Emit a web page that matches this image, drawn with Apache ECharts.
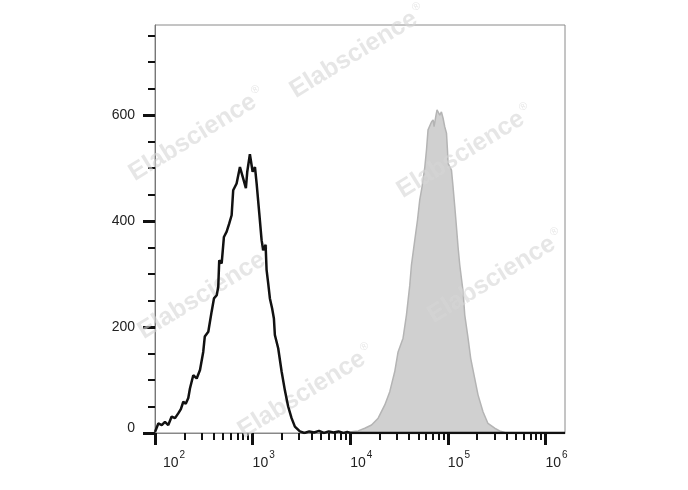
<!DOCTYPE html>
<html><head><meta charset="utf-8">
<script src="https://cdn.jsdelivr.net/npm/echarts@6/dist/echarts.min.js"></script>
<style>html,body{margin:0;padding:0;background:#fff}#c{width:688px;height:490px}</style>
</head><body><div id="c"></div>
<script>
// log10 of fluorescence intensity (x) and event counts (y)
const blackLog = [2.000,2.034,2.069,2.102,2.136, 2.171,2.205,2.238,2.265,2.290, 2.315,2.341,2.358,2.392,2.427, 2.461,2.494,2.510,2.546,2.580, 2.604,2.632,2.648,2.658,2.683, 2.706,2.734,2.760,2.785,2.801, 2.836,2.870,2.898,2.931,2.945, 2.972,3.000,3.024,3.041,3.068, 3.092,3.108,3.133,3.143,3.160, 3.177,3.200,3.218,3.228,3.262, 3.297,3.331,3.364,3.399,3.433, 3.484,3.530,3.580,3.630,3.680, 3.730,3.780,3.830,3.880,3.930, 3.970,4.000,6.200];
const blackCount = [2,18,15,21,15, 31,28,37,45,59, 55,66,84,109,103, 119,153,182,191,229, 254,260,276,326,320, 370,380,395,411,458, 471,502,484,462,493, 526,493,502,471,415, 364,345,355,308,282, 254,235,216,185,160, 116,80,50,28,12, 3,0,3,1,4, 0,3,1,3,0, 2,0,0];
const grayLog = [3.95,4.013,4.081,4.149,4.218, 4.286,4.354,4.405,4.456,4.490, 4.541,4.576,4.610,4.627,4.661, 4.689,4.712,4.736,4.764,4.781, 4.797,4.815,4.832,4.849,4.859, 4.876,4.889,4.904,4.917,4.934, 4.951,4.968,4.986,4.996,5.002, 5.037,5.053,5.071,5.088,5.104, 5.122,5.156,5.173,5.207,5.234, 5.275,5.309,5.360,5.411,5.480, 5.531,5.582,5.65];
const grayCount = [0,2.5,4,9,15, 28,53,78,116,153, 179,223,279,317,364, 402,440,465,502,534, 572,575,587,591,578, 597,610,613,600,606, 594,578,566,534,509, 496,465,427,389,352, 317,267,223,179,141, 103,72,40,18,9, 4,1,0];
const xDecades = [2,3,4,5,6];
const yMajorTicks = [0,200,400,600];
const yMinorTicks = [50,100,150,250,300,350,450,500,550,650,700,750];
const watermarkText = 'Elabscience';

const X_MIN = 2, X_MAX = 6.2, Y_MIN = 0, Y_MAX = 770;
const xMinorTicks = [];
xDecades.forEach(d => { for (let k = 2; k <= 9; k++) { const v = d + Math.log10(k); if (v < X_MAX) xMinorTicks.push(v); } });

const FONT = '"Liberation Sans", Arial, sans-serif';
const blackData = blackLog.map((x, i) => [x, blackCount[i]]);
const grayData = grayLog.map((x, i) => [x, grayCount[i]]);

const wmPos = [[358,52],[197,135],[465,152],[206,293],[306,392],[496,277]];
const graphic = wmPos.map(p => ({
  type: 'text', x: p[0], y: p[1], rotation: 0.55, z: 3, silent: true,
  style: {
    text: watermarkText + '{r|®}', fill: 'rgba(214,214,214,0.6)',
    font: 'bold 25px ' + FONT, align: 'center', verticalAlign: 'middle',
    rich: { r: { fontSize: 11, fill: 'rgba(214,214,214,0.6)', padding: [0,0,16,2] } }
  }
}));

const chart = echarts.init(document.getElementById('c'), null, {renderer: 'canvas'});
chart.setOption({
  animation: false,
  backgroundColor: '#fff',
  grid: { left: 155, right: 123, top: 25, bottom: 57, show: true, borderColor: '#8a8a8a', borderWidth: 1 },
  graphic: graphic,
  xAxis: [
    { type: 'value', min: X_MIN, max: X_MAX, position: 'bottom',
      axisLine: { show: true, lineStyle: { color: '#888', width: 1 } },
      axisTick: { show: true, customValues: xDecades, length: 12, lineStyle: { color: '#111', width: 3 } },
      axisLabel: { show: true, customValues: xDecades, margin: 17, align: 'left',
        formatter: v => (v === 2 ? '{f|10}{s|' + v + '}' : '{b|10}{s|' + v + '}'),
        rich: {
          b: { fontSize: 14, fontFamily: FONT, color: '#222', lineHeight: 20, verticalAlign: 'bottom' },
          f: { fontSize: 14, fontFamily: FONT, color: '#222', lineHeight: 20, verticalAlign: 'bottom', padding: [0,0,0,8] },
          s: { fontSize: 10, fontFamily: FONT, color: '#222', lineHeight: 10, verticalAlign: 'top', padding: [0,0,0,1] }
        } },
      splitLine: { show: false } },
    { type: 'value', min: X_MIN, max: X_MAX, position: 'bottom',
      axisLine: { show: false },
      axisTick: { show: true, customValues: xMinorTicks, length: 7, lineStyle: { color: '#111', width: 2 } },
      axisLabel: { show: false }, splitLine: { show: false } }
  ],
  yAxis: [
    { type: 'value', min: Y_MIN, max: Y_MAX, position: 'left',
      axisLine: { show: true, lineStyle: { color: '#777', width: 1 } },
      axisTick: { show: true, customValues: yMajorTicks, length: 12, lineStyle: { color: '#111', width: 3 } },
      axisLabel: { show: true, customValues: yMajorTicks, margin: 20,
        formatter: v => (v === 0 ? '{z|0}' : '{n|' + v + '}'),
        rich: {
          n: { fontSize: 14, fontFamily: FONT, color: '#222' },
          z: { fontSize: 14, fontFamily: FONT, color: '#222', padding: [0,0,10,0] }
        } },
      splitLine: { show: false } },
    { type: 'value', min: Y_MIN, max: Y_MAX, position: 'left',
      axisLine: { show: false },
      axisTick: { show: true, customValues: yMinorTicks, length: 7, lineStyle: { color: '#111', width: 2 } },
      axisLabel: { show: false }, splitLine: { show: false } }
  ],
  series: [
    { type: 'line', name: 'stained', data: grayData, xAxisIndex: 0, yAxisIndex: 0, z: 2,
      showSymbol: false, symbol: 'none', smooth: false,
      lineStyle: { color: '#b4b4b4', width: 1.5 },
      areaStyle: { color: '#d0d0d0', opacity: 1 } },
    { type: 'line', name: 'control', data: blackData, xAxisIndex: 0, yAxisIndex: 0, z: 5,
      showSymbol: false, symbol: 'none', smooth: false,
      lineStyle: { color: '#111', width: 2.5 } }
  ]
});
</script></body></html>
